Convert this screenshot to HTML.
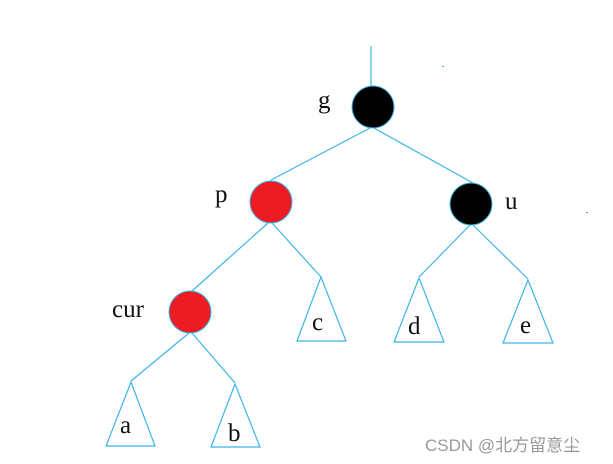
<!DOCTYPE html>
<html><head><style>
html,body{margin:0;padding:0;background:#fff;width:613px;height:464px;overflow:hidden}
svg{display:block}
text{font-family:"Liberation Serif",serif;fill:#111}
</style></head><body>
<svg width="613" height="464" viewBox="0 0 613 464">
<g stroke="#3bb5e8" stroke-width="1.2" fill="none">
<line x1="371" y1="46" x2="371" y2="86"/>
<line x1="370" y1="128" x2="271" y2="180"/>
<line x1="374" y1="128" x2="473" y2="183"/>
<line x1="268" y1="223" x2="192" y2="291"/>
<line x1="272" y1="223" x2="321" y2="277"/>
<line x1="470" y1="225" x2="419" y2="277"/>
<line x1="473" y1="225" x2="528" y2="279"/>
<line x1="189" y1="333" x2="131" y2="381"/>
<line x1="192" y1="333" x2="235" y2="383"/>
<polygon points="321,277 297,341 346,341"/>
<polygon points="419,278 394,342 444,342"/>
<polygon points="528,280 503,343 553,343"/>
<polygon points="131,382 106,446 155,446"/>
<polygon points="235,384 211,447 260,447"/>
</g>
<g stroke="#3bb5e8" stroke-width="1">
<circle cx="373" cy="107" r="21" fill="#000"/>
<circle cx="271" cy="202" r="21" fill="#ed1c24"/>
<circle cx="471" cy="204" r="21" fill="#000"/>
<circle cx="190" cy="312" r="21" fill="#ed1c24"/>
</g>
<g font-size="25">
<text x="318" y="108">g</text>
<text x="215" y="202">p</text>
<text x="505" y="209">u</text>
<text x="112" y="317">cur</text>
<text x="312" y="330">c</text>
<text x="408" y="334">d</text>
<text x="520" y="333">e</text>
<text x="120" y="433">a</text>
<text x="228" y="441">b</text>
</g>
<rect x="442" y="66" width="2" height="1" fill="#3bb5e8"/>
<rect x="586" y="212" width="2" height="1" fill="#3bb5e8"/>
<text x="425" y="451" font-size="17" style="font-family:'Liberation Sans','Noto Sans CJK SC',sans-serif;fill:#999">CSDN @北方留意尘</text>
</svg>
</body></html>
